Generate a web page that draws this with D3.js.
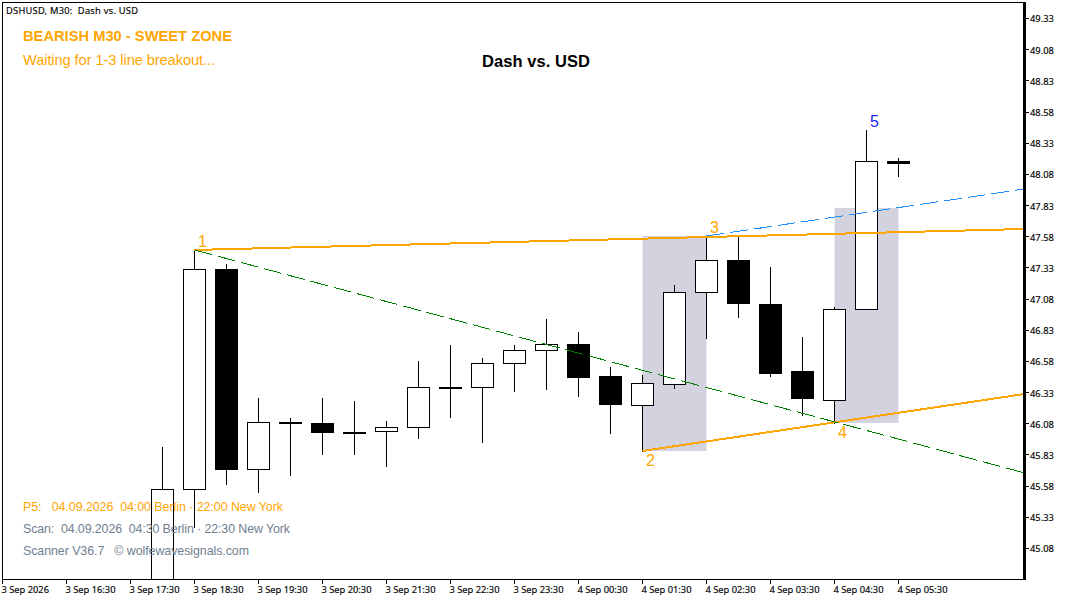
<!DOCTYPE html>
<html>
<head>
<meta charset="utf-8">
<title>Dash vs. USD</title>
<script src="https://cdn.jsdelivr.net/npm/d3@7"></script>
<style>
  html, body { margin: 0; padding: 0; background: #fff; }
  svg { display: block; }
  text { font-family: "Liberation Sans", Arial, sans-serif; }
  .tick-label, .small { font-family: "Noto Sans", sans-serif; font-size: 9.3px; fill: #000; stroke: #000; stroke-width: 0.15px; }
</style>
</head>
<body>
<div id="chart"></div>
<script>
// Candles, oldest first (bar 0 = 3 Sep 18:00)
const opens  = [44.663, 45.554, 47.317, 45.714, 46.079, 46.083, 46.011, 46.019, 46.051, 46.371, 46.375, 46.564, 46.664, 46.716, 46.460, 46.227, 46.399, 47.129, 47.390, 47.037, 46.500, 46.267, 46.993, 48.183];
const highs  = [45.890, 47.470, 47.358, 46.283, 46.123, 46.283, 46.259, 46.099, 46.580, 46.708, 46.604, 46.708, 46.917, 46.812, 46.532, 46.468, 47.189, 47.582, 47.582, 47.334, 46.772, 47.013, 48.432, 48.207];
const lows   = [44.500, 45.249, 45.594, 45.529, 45.666, 45.834, 45.834, 45.738, 45.962, 46.131, 45.930, 46.339, 46.355, 46.299, 46.003, 45.858, 46.363, 46.764, 46.933, 46.460, 46.147, 46.083, 46.993, 48.063];
const closes = [45.554, 47.317, 45.714, 46.091, 46.087, 46.011, 46.005, 46.051, 46.371, 46.367, 46.564, 46.668, 46.712, 46.452, 46.235, 46.403, 47.133, 47.390, 47.045, 46.484, 46.283, 46.997, 48.183, 48.167];

const priceTicks = [49.33, 49.08, 48.83, 48.58, 48.33, 48.08, 47.83, 47.58, 47.33, 47.08, 46.83, 46.58, 46.33, 46.08, 45.83, 45.58, 45.33, 45.08];
const timeLabels = ["3 Sep 2026", "3 Sep 16:30", "3 Sep 17:30", "3 Sep 18:30", "3 Sep 19:30", "3 Sep 20:30", "3 Sep 21:30", "3 Sep 22:30", "3 Sep 23:30", "4 Sep 00:30", "4 Sep 01:30", "4 Sep 02:30", "4 Sep 03:30", "4 Sep 04:30", "4 Sep 05:30"];
const timeTickBars = [-5, -3, -1, 1, 3, 5, 7, 9, 11, 13, 15, 17, 19, 21, 23];

// Wave points as [bar, price], and where the lines end at the chart edge
const wavePoints = [[1, 47.47], [15, 45.858], [17, 47.582], [21, 46.083], [22, 48.432]];
const waveLabels = ["1", "2", "3", "4", "5"];
const edgeBar = 26.9375;
const upperEnd = 47.638, lowerEnd = 46.315, greenEnd = 45.682, blueEnd = 47.959;
const zones = [[15, 17, 47.582, 45.858], [21, 23, 47.807, 46.083]];

const margin = {top: 2, right: 42, bottom: 21, left: 2};
const width = 1067, height = 600;
const orange = "#ffa500", slate = "#708090";

const svg = d3.select("#chart").append("svg").attr("width", width).attr("height", height);

const x = d3.scaleLinear().domain([-5, edgeBar]).range([margin.left + 0.5, 1024.5]);
const y = d3.scaleLinear().domain([49.33, 45.08]).range([18, 548]);
const py = v => Math.round(y(v)) + 0.5;
const bottom = height - margin.bottom;

const plot = svg.append("svg").attr("x", 0).attr("y", 0).attr("width", 1024).attr("height", bottom)
  .append("g");

// shaded zones
plot.selectAll("rect.zone").data(zones).join("rect")
  .attr("x", d => x(d[0])).attr("width", d => x(d[1]) - x(d[0]))
  .attr("y", d => y(d[2])).attr("height", d => y(d[3]) - y(d[2]))
  .attr("fill", "#d3d3e0");

// candles
const bars = opens.map((o, i) => ({i, o, h: highs[i], l: lows[i], c: closes[i]}));
const candle = plot.selectAll("g.candle").data(bars).join("g").attr("shape-rendering", "crispEdges");
candle.append("line")
  .attr("x1", d => x(d.i)).attr("x2", d => x(d.i))
  .attr("y1", d => py(d.h) - 0.5).attr("y2", d => py(d.l) + 0.5)
  .attr("stroke", "#000");
candle.append("rect")
  .attr("x", d => x(d.i) - 11).attr("width", 22)
  .attr("y", d => py(Math.max(d.o, d.c)))
  .attr("height", d => Math.max(1, py(Math.min(d.o, d.c)) - py(Math.max(d.o, d.c))))
  .attr("fill", d => d.c >= d.o ? "#fff" : "#000")
  .attr("stroke", "#000");

// wave lines
const line = d3.line().x(d => x(d[0])).y(d => y(d[1]));
const wave = (a, b) => [wavePoints[a], b];
const trendLines = [
  {pts: wave(0, [edgeBar, upperEnd]), color: orange, w: 2, dash: null},
  {pts: wave(1, [edgeBar, lowerEnd]), color: orange, w: 2, dash: null},
  {pts: wave(0, [edgeBar, greenEnd]), color: "#008000", w: 1, dash: "18,6"},
  {pts: wave(2, [edgeBar, blueEnd]), color: "#1e90ff", w: 1, dash: "18,6"}
];
plot.selectAll("path.trend").data(trendLines).join("path")
  .attr("d", d => line(d.pts))
  .attr("fill", "none")
  .attr("stroke", d => d.color)
  .attr("stroke-width", d => d.w)
  .attr("stroke-dasharray", d => d.dash)
  .attr("shape-rendering", "crispEdges");

// wave numbers
const labelOffsets = [[8, -3], [8, 15], [8, -3], [8, 15], [8, -3]];
plot.selectAll("text.wave").data(wavePoints).join("text")
  .attr("x", (d, i) => x(d[0]) + labelOffsets[i][0])
  .attr("y", (d, i) => y(d[1]) + labelOffsets[i][1])
  .attr("text-anchor", "middle")
  .attr("font-size", 16)
  .attr("fill", (d, i) => i === 4 ? "#2222ee" : orange)
  .text((d, i) => waveLabels[i]);

// frame and axes
svg.append("rect").attr("x", 2.5).attr("y", 2.5).attr("width", 1022).attr("height", bottom - 2)
  .attr("fill", "none").attr("stroke", "#000").attr("shape-rendering", "crispEdges");
svg.append("rect").attr("x", 1023).attr("y", 2).attr("width", 3).attr("height", bottom - 1)
  .attr("fill", "#000").attr("shape-rendering", "crispEdges");

const yAxis = svg.append("g").attr("transform", "translate(1026,0)")
  .call(d3.axisRight(y).tickValues(priceTicks).tickFormat(d3.format(".2f")).tickSize(3).tickPadding(1));
yAxis.select(".domain").remove();
yAxis.selectAll("line").attr("shape-rendering", "crispEdges");
yAxis.selectAll("text").attr("class", "tick-label").attr("y", 1);

const xAxis = svg.append("g").attr("transform", `translate(0,${bottom + 0.5})`)
  .call(d3.axisBottom(x).offset(0).tickValues(timeTickBars).tickFormat((d, i) => timeLabels[i]).tickSize(4).tickPadding(3));
xAxis.select(".domain").remove();
xAxis.selectAll("line").attr("shape-rendering", "crispEdges");
xAxis.selectAll("text").attr("class", "tick-label").attr("text-anchor", "start").attr("dx", -1);

// header and notes
const notes = [
  {t: "DSHUSD, M30:\u00a0 Dash vs. USD", x: 6, y: 14, size: 9.3, c: "#000", cls: "small", len: 132},
  {t: "BEARISH M30 - SWEET ZONE", x: 23, y: 41, size: 14.7, c: orange, bold: true, len: 209},
  {t: "Waiting for 1-3 line breakout...", x: 23, y: 65, size: 14.6, c: orange, len: 192},
  {t: "Dash vs. USD", x: 482, y: 67, size: 16.5, c: "#000", bold: true, len: 108},
  {t: "P5:\u00a0\u00a0 04.09.2026\u00a0 04:00 Berlin \u00b7 22:00 New York", x: 23, y: 511, size: 12.4, c: orange, len: 260},
  {t: "Scan:\u00a0 04.09.2026\u00a0 04:30 Berlin \u00b7 22:30 New York", x: 23, y: 533, size: 12.4, c: slate, len: 267},
  {t: "Scanner V36.7\u00a0\u00a0 \u00a9 wolfewavesignals.com", x: 23, y: 555, size: 12.4, c: slate, len: 226}
];
svg.selectAll("text.note").data(notes).join("text")
  .attr("class", d => "note " + (d.cls || ""))
  .attr("x", d => d.x).attr("y", d => d.y)
  .attr("font-size", d => d.size)
  .attr("font-weight", d => d.bold ? "bold" : "normal")
  .attr("fill", d => d.c)
  .attr("textLength", d => d.len)
  .attr("lengthAdjust", "spacing")
  .text(d => d.t);
</script>
</body>
</html>
